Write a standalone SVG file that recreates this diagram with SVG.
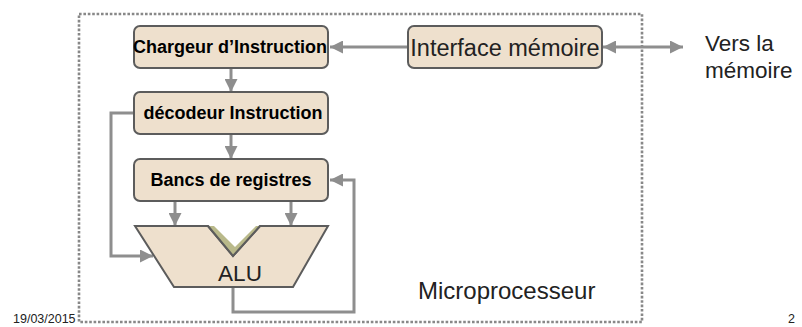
<svg xmlns="http://www.w3.org/2000/svg" width="802" height="327" viewBox="0 0 802 327">
<style>
.box{fill:#eee0cd;stroke:#5c5c5c;stroke-width:2}
.bt{font-family:"Liberation Sans",Arial,sans-serif;font-weight:bold;font-size:18px;fill:#000;text-anchor:middle}
.rt{font-family:"Liberation Sans",Arial,sans-serif;fill:#222}
.con{fill:none;stroke:#8e8e8e;stroke-width:3}
.frame{fill:none;stroke:#888;stroke-width:2.6;stroke-dasharray:2.6 1.8}
</style>
<defs>
<marker id="ah" markerUnits="userSpaceOnUse" viewBox="0 0 13 13" refX="13" refY="6.5" markerWidth="13" markerHeight="13" orient="auto-start-reverse">
<path d="M0,0 L13,6.5 L0,13 z" fill="#8e8e8e"/>
</marker>
</defs>
<rect class="frame" x="79" y="14" width="563" height="308"/>
<g id="connectors">
<path class="con" d="M408,47 H330" marker-end="url(#ah)"/>
<path class="con" d="M603,47 H683" marker-start="url(#ah)" marker-end="url(#ah)"/>
<path class="con" d="M231,68 V92" marker-end="url(#ah)"/>
<path class="con" d="M231,134 V159" marker-end="url(#ah)"/>
<path class="con" d="M175,201 V226" marker-end="url(#ah)"/>
<path class="con" d="M291,201 V226" marker-end="url(#ah)"/>
<path class="con" d="M134,113 H111 V256 H153" marker-end="url(#ah)"/>
<path class="con" d="M233,287 V312 H354 V180 H330" marker-end="url(#ah)"/>
</g>
<g id="chargeur">
<rect class="box" x="134" y="26" width="194" height="42" rx="6"/>
<text class="bt" x="230" y="53">Chargeur d’Instruction</text>
</g>
<g id="decodeur">
<rect class="box" x="134" y="92" width="194" height="42" rx="6"/>
<text class="bt" x="233" y="119">décodeur Instruction</text>
</g>
<g id="bancs">
<rect class="box" x="134" y="159" width="194" height="42" rx="6"/>
<text class="bt" x="231" y="186">Bancs de registres</text>
</g>
<g id="alu">
<polygon class="box" points="135,226 208,226 233,256 260,226 328,226 293,287 174,287"/>
<polygon points="208,226 233,256 260,226 256,226 235,247 214,226" fill="#b9b98a"/>
<polyline points="208,226 233,256 260,226" fill="none" stroke="#5c5c5c" stroke-width="2"/>
<text class="rt" x="240" y="281" font-size="22.5" text-anchor="middle">ALU</text>
</g>
<g id="interface">
<rect class="box" x="408" y="26" width="194" height="42" rx="6"/>
<text class="rt" x="505" y="56" font-size="23.5" text-anchor="middle">Interface mémoire</text>
</g>
<g id="vers">
<text class="rt" x="705" y="51" font-size="22.5">Vers la</text>
<text class="rt" x="705" y="78" font-size="22.5">mémoire</text>
</g>
<text class="rt" x="418" y="299" font-size="24">Microprocesseur</text>
<text class="rt" x="13" y="323" font-size="12.5">19/03/2015</text>
<text class="rt" x="788" y="323" font-size="12.5">2</text>
</svg>
